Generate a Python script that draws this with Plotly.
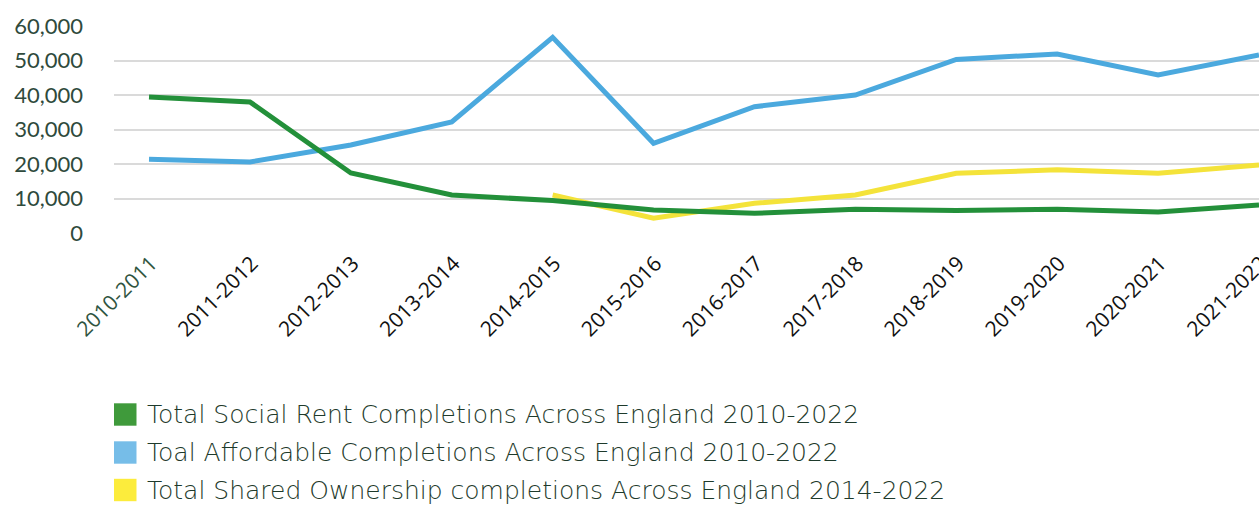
import plotly.graph_objects as go

years = ["2010-2011", "2011-2012", "2012-2013", "2013-2014", "2014-2015", "2015-2016",
         "2016-2017", "2017-2018", "2018-2019", "2019-2020", "2020-2021", "2021-2022"]
social_rent = [39400, 38000, 17400, 11000, 9400, 6700, 5700, 6900, 6500, 6900, 6100, 8100]
affordable = [21400, 20600, 25500, 32200, 56700, 26000, 36600, 40000, 50300, 51900, 45800, 51600]
shared_own = [None, None, None, None, 11000, 4300, 8600, 11000, 17300, 18300, 17300, 19700]

names = ["Total Social Rent Completions Across England 2010-2022",
         "Toal Affordable Completions Across England 2010-2022",
         "Total Shared Ownership completions Across England 2014-2022"]
line_colors = ["#23903A", "#4BA9DE", "#F4E33A"]
legend_colors = ["#3F9A3B", "#76BDE8", "#FCEC3C"]

W, H = 1259, 505
ML, MT, MB = 114, 26, 272
PW, PH = W - ML, H - MT - MB


def px_x(p):
    return (p - ML) / PW


def px_y(p):
    return (H - MB - p) / PH


x_idx = list(range(len(years)))
fig = go.Figure()
for vals, col, nm in [(affordable, line_colors[1], names[1]),
                      (shared_own, line_colors[2], names[2]),
                      (social_rent, line_colors[0], names[0])]:
    fig.add_trace(go.Scatter(x=x_idx, y=vals, mode="lines", name=nm, line=dict(color=col, width=5),
                             showlegend=False, connectgaps=False))

# custom legend: coloured squares + text
row_centers = [414.5, 452.5, 490]
for nm, col, cy in zip(names, legend_colors, row_centers):
    fig.add_shape(type="rect", xref="paper", yref="paper",
                  x0=px_x(114), x1=px_x(136.5), y0=px_y(cy - 11.2), y1=px_y(cy + 11.2),
                  fillcolor=col, line=dict(width=0), layer="above")
    fig.add_annotation(xref="paper", yref="paper", x=px_x(145), y=px_y(cy),
                       xanchor="left", yanchor="middle", showarrow=False, text=nm,
                       font=dict(family="DejaVu Sans", size=25, color="#1E3A2B", weight=300))

ticktext = ['<span style="color:#2F5440">' + years[0] + '</span>'] + years[1:]

fig.update_layout(
    width=W, height=H,
    margin=dict(l=ML, r=0, t=MT, b=MB, autoexpand=False),
    plot_bgcolor="white", paper_bgcolor="white",
    font=dict(family="Lato", color="#2F4A3C"),
    showlegend=False,
    xaxis=dict(range=[-0.347, 11], tickmode="array", tickvals=x_idx, ticktext=ticktext,
               tickangle=-45, showgrid=False, zeroline=False, showline=False, automargin=False,
               ticklabeloverflow="allow", ticklabelshift=2, ticklabelstandoff=13,
               tickfont=dict(family="Open Sans", size=21, color="#111111"), ticks=""),
    yaxis=dict(range=[0, 60000], tickvals=[0, 10000, 20000, 30000, 40000, 50000, 60000],
               tickformat=",", showgrid=True, gridcolor="#DADADA", gridwidth=2, automargin=False,
               zeroline=False, showline=False, ticklabelstandoff=30,
               tickfont=dict(family="Lato", size=22, color="#2F4A3C")),
)
fig.write_html("out.html", config={"displayModeBar": False},
               post_script="document.body.style.margin='0px';document.body.style.overflow='hidden';")
